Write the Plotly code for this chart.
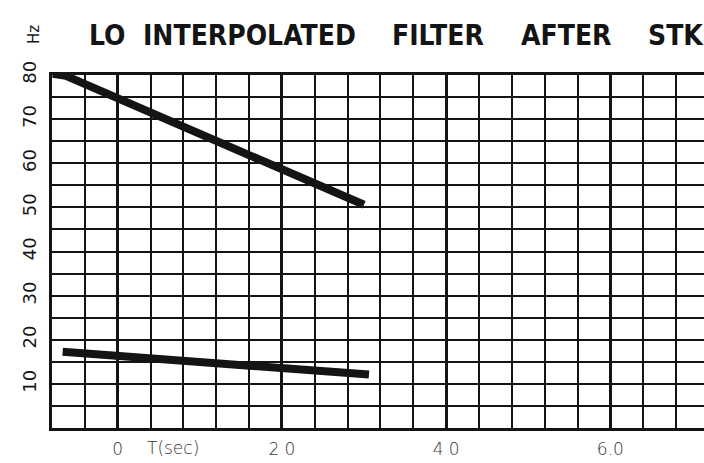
import plotly.graph_objects as go

# ---- data ----
upper_t = [-7.9, -6.3, 30.0]
upper_hz = [80.3, 79.8, 50.6]
lower_t = [-6.7, 30.6]
lower_hz = [17.3, 12.1]

x_tickvals = [0, 20, 40, 60]
x_ticktext = ["0", "2 0", "4 0", "6.0"]
y_tickvals = [10, 20, 30, 40, 50, 60, 70, 80]
y_ticktext = ["10", "20", "30", "40", "50", "60", "70", "80"]
title_words = ["LO", "INTERPOLATED", "FILTER", "AFTER", "STK"]
title_px = [87, 141, 390, 519, 646]

W, H = 704, 463
ML, MR, MT, MB = 52, 0, 75, 35
PW = W - ML - MR
PH = H - MT - MB

INK = "#141414"
fig = go.Figure()
fig.add_trace(go.Scatter(x=upper_t, y=upper_hz, mode="lines",
                         line=dict(color=INK, width=8), hoverinfo="skip"))
fig.add_trace(go.Scatter(x=lower_t, y=lower_hz, mode="lines",
                         line=dict(color=INK, width=8), hoverinfo="skip"))

title_font = dict(family="DejaVu Sans Condensed, Liberation Sans Narrow, DejaVu Sans, sans-serif",
                  size=28, color=INK, weight="bold")
ann = []
for w, px in zip(title_words, title_px):
    ann.append(dict(text=w, xref="paper", yref="paper", x=(px - ML) / PW,
                    y=(H - MB - 36) / PH, xanchor="left", yanchor="middle",
                    showarrow=False, font=title_font))
ann.append(dict(text="Hz", xref="paper", yref="paper", x=(34 - ML) / PW,
                y=(H - MB - 35) / PH, xanchor="center", yanchor="middle",
                textangle=-90, showarrow=False,
                font=dict(family="DejaVu Sans", size=15, color=INK)))
ann.append(dict(text="T(sec)", xref="paper", yref="paper", x=(173 - ML) / PW,
                y=-20 / PH, xanchor="center", yanchor="middle", showarrow=False,
                font=dict(family="DejaVu Sans", size=17, color="#333", weight=200)))
fig.update_layout(annotations=ann)

fig.update_layout(
    width=W, height=H,
    margin=dict(l=ML, r=MR, t=MT, b=MB, pad=0, autoexpand=False),
    paper_bgcolor="white", plot_bgcolor="white",
    showlegend=False,
    xaxis=dict(range=[-8, 71.4], tickmode="array", tickvals=x_tickvals, ticktext=x_ticktext,
               automargin=False,
               showgrid=True, gridcolor=INK, gridwidth=3, zeroline=False,
               showline=True, linecolor=INK, linewidth=3, mirror=True,
               ticks="", ticklabelstandoff=4,
               tickfont=dict(family="DejaVu Sans", size=17, color="#333", weight=200),
               minor=dict(tick0=0, dtick=4, showgrid=True, gridcolor=INK, gridwidth=2)),
    yaxis=dict(range=[0, 80], tickmode="array", tickvals=y_tickvals, ticktext=y_ticktext,
               automargin=False,
               showgrid=True, gridcolor=INK, gridwidth=2, zeroline=False,
               showline=True, linecolor=INK, linewidth=3, mirror=True,
               ticks="", tickangle=-90, ticklabelstandoff=6,
               tickfont=dict(family="DejaVu Sans", size=18, color=INK),
               minor=dict(tick0=0, dtick=5, showgrid=True, gridcolor=INK, gridwidth=2)),
)

fig.write_html("out.html", config={"displayModeBar": False},
               post_script="document.body.style.margin='0';document.body.style.overflow='hidden';")
